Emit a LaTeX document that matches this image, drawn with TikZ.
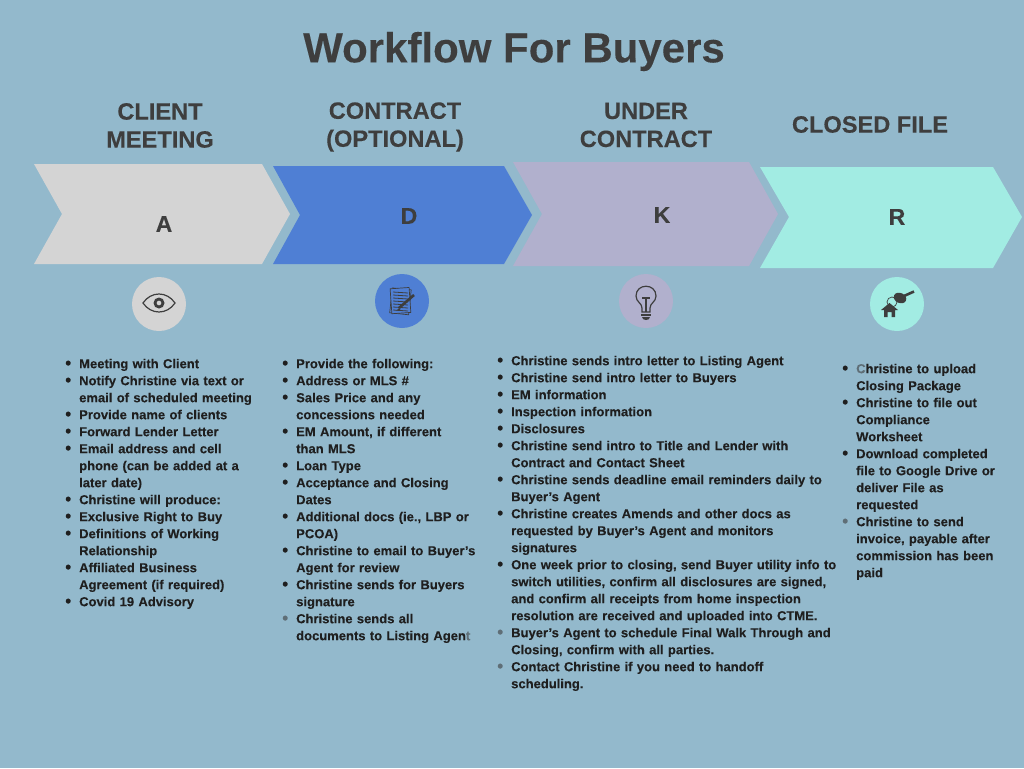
\documentclass[tikz,border=0pt]{standalone}
\usepackage{fontspec}
\setmainfont[BoldFeatures={FakeBold=0.15}]{Liberation Sans}
\usepackage{tikz}
\usetikzlibrary{positioning,arrows.meta,calc}
\definecolor{bgblue}{HTML}{93B9CC}
\definecolor{inkgray}{HTML}{3E3E3E}
\definecolor{stepgray}{HTML}{D4D4D4}
\definecolor{stepblue}{HTML}{4F7FD4}
\definecolor{steplilac}{HTML}{B1B0CD}
\definecolor{stepmint}{HTML}{A2ECE3}
\definecolor{dimbullet}{HTML}{5F6E76}
\newcommand{\bigdot}{\raisebox{-.5pt}{\fontsize{17}{17}\selectfont\textbullet}}
\newcommand{\gb}{\item[\textcolor{dimbullet}{\bigdot}]}
\newenvironment{stepitems}{\begin{list}{\bigdot}{\setlength{\leftmargin}{15pt}\setlength{\labelsep}{8pt}\setlength{\labelwidth}{7pt}\setlength{\itemsep}{0pt}\setlength{\parsep}{0pt}\setlength{\topsep}{0pt}\setlength{\partopsep}{0pt}}}{\end{list}}
\tikzset{
  titletext/.style={text=inkgray,font=\fontsize{42}{46}\selectfont\bfseries},
  headtext/.style={text=inkgray,align=center,font=\fontsize{23.6}{28}\selectfont\bfseries},
  lettertext/.style={text=inkgray,font=\fontsize{23}{26}\selectfont\bfseries},
  steptext/.style={text=black!88,anchor=north west,inner sep=0pt,font=\fontsize{13}{17}\selectfont\bfseries},
  disc/.style={circle,minimum size=54pt,inner sep=0pt},
  icon/.style={draw=inkgray,line width=1.2pt},
}
\begin{document}
\begin{tikzpicture}[x=1pt,y=-1pt]
\useasboundingbox (0,0) rectangle (1024,768);
\fill[bgblue] (0,0) rectangle (1024,768);
\node[titletext] (title) at (514,51.5) {Workflow For Buyers};
% chevrons
\fill[stepgray] (34,164) -- (262,164) -- (290,214) -- (262,264) -- (34,264) -- (62,214) -- cycle;
\fill[stepblue] (273,166) -- (504,166) -- (532,215) -- (504,264) -- (273,264) -- (300,215) -- cycle;
\fill[steplilac] (513,162) -- (749,162) -- (778,214) -- (749,266) -- (513,266) -- (542,214) -- cycle;
\fill[stepmint] (760,167) -- (993,167) -- (1022,217) -- (993,268) -- (760,268) -- (789,217) -- cycle;
% headings
\node[headtext] (headA) at (160,125.5) {CLIENT\\MEETING};
\node[headtext] (headD) at (395,127) {CONTRACT\\(OPTIONAL)};
\node[headtext] (headK) at (646,125) {UNDER\\CONTRACT};
\node[headtext] (headR) at (870,124.5) {CLOSED FILE};
\node[lettertext] (letA) at (164,224) {A};
\node[lettertext] (letD) at (409,216) {D};
\node[lettertext] (letK) at (662,215) {K};
\node[lettertext] (letR) at (897,217) {R};
% icon discs
\node[disc,fill=stepgray] (discA) at (159,304) {};
\node[disc,fill=stepblue] (discD) at (402,301) {};
\node[disc,fill=steplilac] (discK) at (646,301) {};
\node[disc,fill=stepmint] (discR) at (897,304) {};
% eye
\draw[icon] (143,303) .. controls (151,291) and (167,291) .. (175,303) .. controls (167,315) and (151,315) .. (143,303) -- cycle;
\fill[inkgray,even odd rule] (159,303) circle (5.5) (159,303) circle (2.5);
% document and pen
\begin{scope}[shift={(discD.center)}]
\draw[icon,line width=.7pt,rotate=-6] (-11,-12) rectangle (8,13);
\fill[stepblue,rotate=4] (-11,-13) rectangle (8,12);
\draw[icon,line width=.7pt,rotate=4] (-11,-13) rectangle (8,12);
\foreach \yy in {-9,-6,-3,0,3,6,9}
  \draw[inkgray,line width=.8pt] (-9,\yy) -- (6,\yy+1);
\draw[inkgray,line width=2.6pt] (-3,7) -- (12,-6);
\fill[inkgray] (-3,7) -- (-6,10) -- (-1.5,9) -- cycle;
\end{scope}
% bulb
\draw[icon] (642,308) .. controls (642,303) and (636,302) .. (636,296) .. controls (636,283) and (656,283) .. (656,296) .. controls (656,302) and (650,303) .. (650,308) -- (650,312) -- (642,312) -- cycle;
\draw[icon] (642,298) -- (650,298) (646,298) -- (646,312);
\fill[inkgray] (641,313.5) -- (651,313.5) -- (651,315.5) -- (641,315.5) -- cycle;
\fill[inkgray] (642,317) -- (650,317) .. controls (650,319) and (648,320) .. (646,320) .. controls (644,320) and (642,319) .. (642,317) -- cycle;
% house and key
\fill[inkgray] (881,310) -- (889.5,303) -- (898,310) -- (895,310) -- (895,317) -- (891.5,317) -- (891.5,312) -- (887.5,312) -- (887.5,317) -- (884,317) -- (884,310) -- cycle;
\draw[icon,line width=.7pt] (892,302) circle (5);
\fill[inkgray,rotate around={-25:(900,298)}] (900,298) ellipse (6.5 and 5);
\draw[inkgray,line width=2.6pt] (904,296) -- (914,291.5);
% lists
\node[steptext,text width=220pt] (listA) at (64,351) {\begin{stepitems}
\item Meeting with Client
\item Notify Christine via text or\\email of scheduled meeting
\item Provide name of clients
\item Forward Lender Letter
\item Email address and cell\\phone (can be added at a\\later date)
\item Christine will produce:
\item Exclusive Right to Buy
\item Definitions of Working\\Relationship
\item Affiliated Business\\Agreement (if required)
\item Covid 19 Advisory
\end{stepitems}};
\node[steptext,text width=215pt] (listD) at (281,351) {\begin{stepitems}
\item Provide the following:
\item Address or MLS \#
\item Sales Price and any\\concessions needed
\item EM Amount, if different\\than MLS
\item Loan Type
\item Acceptance and Closing\\Dates
\item Additional docs (ie., LBP or\\PCOA)
\item Christine to email to Buyer's\\Agent for review
\item Christine sends for Buyers\\signature
\gb Christine sends all\\documents to Listing Agen\textcolor{dimbullet}{t}
\end{stepitems}};
\node[steptext,text width=400pt] (listK) at (496,348) {\begin{stepitems}
\item Christine sends intro letter to Listing Agent
\item Christine send intro letter to Buyers
\item EM information
\item Inspection information
\item Disclosures
\item Christine send intro to Title and Lender with\\Contract and Contact Sheet
\item Christine sends deadline email reminders daily to\\Buyer's Agent
\item Christine creates Amends and other docs as\\requested by Buyer's Agent and monitors\\signatures
\item One week prior to closing, send Buyer utility info to\\switch utilities, confirm all disclosures are signed,\\and confirm all receipts from home inspection\\resolution are received and uploaded into CTME.
\gb Buyer's Agent to schedule Final Walk Through and\\Closing, confirm with all parties.
\gb Contact Christine if you need to handoff\\scheduling.
\end{stepitems}};
\node[steptext,text width=170pt] (listR) at (841,356) {\begin{stepitems}
\item \textcolor{dimbullet}{C}hristine to upload\\Closing Package
\item Christine to file out\\Compliance\\Worksheet
\item Download completed\\file to Google Drive or\\deliver File as\\requested
\gb Christine to send\\invoice, payable after\\commission has been\\paid
\end{stepitems}};
\end{tikzpicture}
\end{document}
